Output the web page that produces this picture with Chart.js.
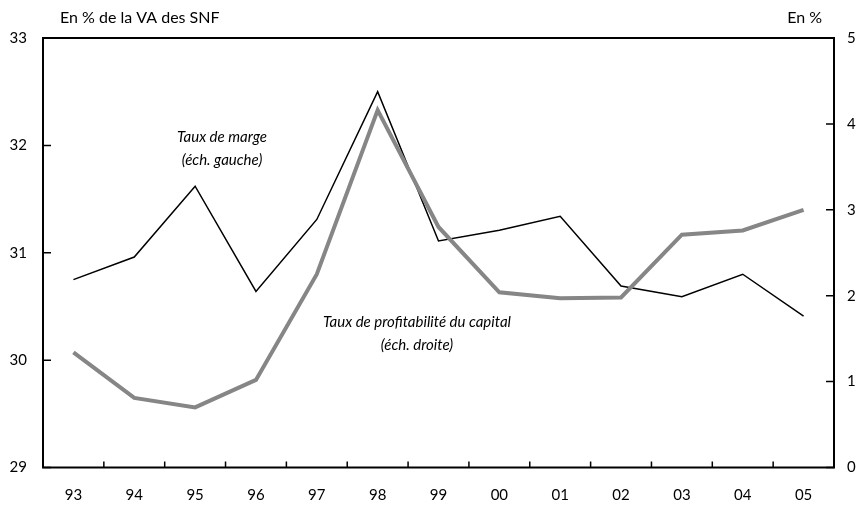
<!DOCTYPE html>
<html>
<head>
<meta charset="utf-8">
<script src="https://cdn.jsdelivr.net/npm/chart.js@4/dist/chart.umd.min.js"></script>
<style>
  html, body { margin: 0; padding: 0; background: #fff; }
  #wrap { width: 861px; height: 507px; }
</style>
</head>
<body>
<div id="wrap"><canvas id="c" width="861" height="507"></canvas></div>
<script>
const years = ['93', '94', '95', '96', '97', '98', '99', '00', '01', '02', '03', '04', '05'];
// taux de marge, échelle gauche (en % de la VA)
const tauxMarge = [30.75, 30.96, 31.62, 30.64, 31.31, 32.5, 31.11, 31.21, 31.34, 30.69, 30.59, 30.8, 30.41];
// taux de profitabilité du capital, échelle droite (en %)
const tauxProfit = [1.34, 0.81, 0.70, 1.02, 2.25, 4.16, 2.80, 2.04, 1.97, 1.98, 2.71, 2.76, 3.00];
const leftTicks = [29, 30, 31, 32, 33];
const rightTicks = [0, 1, 2, 3, 4, 5];

const FONT = 'Lato, "Open Sans", sans-serif';

// cadre + petites graduations vers l'intérieur
const framePlugin = {
    id: 'frame',
    afterDatasetsDraw(chart) {
        const { ctx, chartArea: a, scales } = chart;
        ctx.save();
        ctx.strokeStyle = '#000';
        ctx.lineWidth = 2;
        ctx.strokeRect(a.left, a.top, a.right - a.left, a.bottom - a.top);
        ctx.lineWidth = 1.5;
        ctx.beginPath();
        scales.y.ticks.forEach((t, i) => {
            const y = scales.y.getPixelForTick(i);
            ctx.moveTo(a.left, y); ctx.lineTo(a.left + 8, y);
        });
        scales.y2.ticks.forEach((t, i) => {
            const y = scales.y2.getPixelForTick(i);
            ctx.moveTo(a.right, y); ctx.lineTo(a.right - 8, y);
        });
        const step = (a.right - a.left) / years.length;
        for (let i = 1; i < years.length; i++) {
            const x = a.left + step * i;
            ctx.moveTo(x, a.bottom); ctx.lineTo(x, a.bottom - 6);
        }
        ctx.stroke();

        ctx.fillStyle = '#000';
        ctx.font = '16px ' + FONT;
        ctx.textBaseline = 'middle';
        ctx.textAlign = 'left';
        ctx.fillText('En % de la VA des SNF', 60, 18);
        ctx.textAlign = 'right';
        ctx.fillText('En %', 822, 18);

        ctx.font = 'italic 15px ' + FONT;
        ctx.textAlign = 'center';
        ctx.fillText('Taux de marge', 222, 137);
        ctx.fillText('(éch. gauche)', 222, 160);
        ctx.fillText('Taux de profitabilité du capital', 417, 322);
        ctx.fillText('(éch. droite)', 417, 345);
        ctx.restore();
    }
};

const noGrid = { display: false, drawTicks: false, tickLength: 0 };

new Chart(document.getElementById('c'), {
    type: 'line',
    data: {
        labels: years,
        datasets: [
            {
                label: 'Taux de profitabilité du capital',
                data: tauxProfit,
                yAxisID: 'y2',
                borderColor: '#868686',
                borderWidth: 4,
                pointRadius: 0,
                tension: 0,
                order: 0
            },
            {
                label: 'Taux de marge',
                data: tauxMarge,
                yAxisID: 'y',
                borderColor: '#000',
                borderWidth: 1.5,
                pointRadius: 0,
                tension: 0,
                order: 1
            }
        ]
    },
    options: {
        responsive: false,
        animation: false,
        layout: { padding: { top: 38, left: 0, right: 0, bottom: 0 } },
        plugins: { legend: { display: false }, tooltip: { enabled: false } },
        scales: {
            x: {
                offset: true,
                grid: { ...noGrid, offset: true },
                border: { display: false },
                ticks: { color: '#000', font: { family: FONT, size: 15 }, padding: 19, maxRotation: 0 },
                afterFit(s) { s.height = 39.5; }
            },
            y: {
                position: 'left',
                min: 29, max: 33,
                afterBuildTicks(s) { s.ticks = leftTicks.map(v => ({ value: v })); },
                grid: noGrid,
                border: { display: false },
                ticks: { color: '#000', font: { family: FONT, size: 15 }, padding: 16 },
                afterFit(s) { s.width = 43; }
            },
            y2: {
                position: 'right',
                min: 0, max: 5,
                afterBuildTicks(s) { s.ticks = rightTicks.map(v => ({ value: v })); },
                grid: noGrid,
                border: { display: false },
                ticks: { color: '#000', font: { family: FONT, size: 15 }, padding: 13 },
                afterFit(s) { s.width = 27; }
            }
        }
    },
    plugins: [framePlugin]
});
</script>
</body>
</html>
